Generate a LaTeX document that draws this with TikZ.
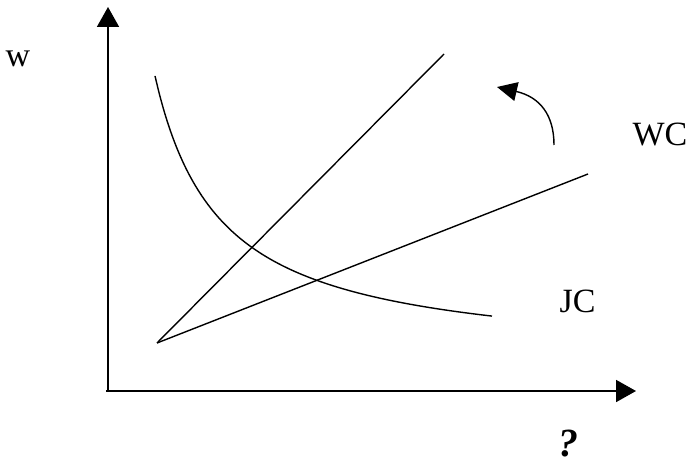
\documentclass[tikz,border=0pt]{standalone}
\usepackage{fontspec}
\setmainfont{Liberation Serif}
\usetikzlibrary{arrows.meta}
\tikzset{
  axis/.style={line width=1.8bp,-{Triangle[length=20bp,width=22bp]}},
  curveline/.style={line width=1.4bp},
  lbl/.style={inner sep=0pt,anchor=base,font=\fontsize{34bp}{40bp}\selectfont},
  qlbl/.style={inner sep=0pt,anchor=base,font=\fontsize{40bp}{46bp}\selectfont\bfseries\itshape},
  turn/.style={line width=1.4bp,-{Triangle[length=20bp,width=19bp]}}
}
\begin{document}
\begin{tikzpicture}[x=1bp,y=-1bp]
\useasboundingbox (0,0) rectangle (694,466);
% axes
\coordinate (o) at (108,391);
\coordinate (ytop) at (108,7);
\coordinate (xend) at (636,391);
\coordinate (xstart) at (106,391);
\draw[axis] (o) -- (ytop);
\draw[axis] (xstart) -- (xend);
% lines
\coordinate (p) at (157,343);
\coordinate (steep) at (444,54);
\coordinate (shallow) at (588,174);
\draw[curveline] (p) -- (steep);
\draw[curveline] (p) -- (shallow);
% JC curve
\draw[curveline] plot[domain=155:492,samples=80,smooth] (\x,{362.4-186.19/((\x-90)/100)});
% turning arrow
\coordinate (a1) at (554,145);
\coordinate (a2) at (497,87);
\draw[turn] (a1) .. controls (554,115) and (540,97) .. (a2);
% labels
\node[lbl] (w) at (18,67) {w};
\node[lbl] (wc) at (660,146) {WC};
\node[lbl] (jc) at (577.5,313) {JC};
\node[qlbl] (q) at (568.5,456) {?};
\end{tikzpicture}
\end{document}
